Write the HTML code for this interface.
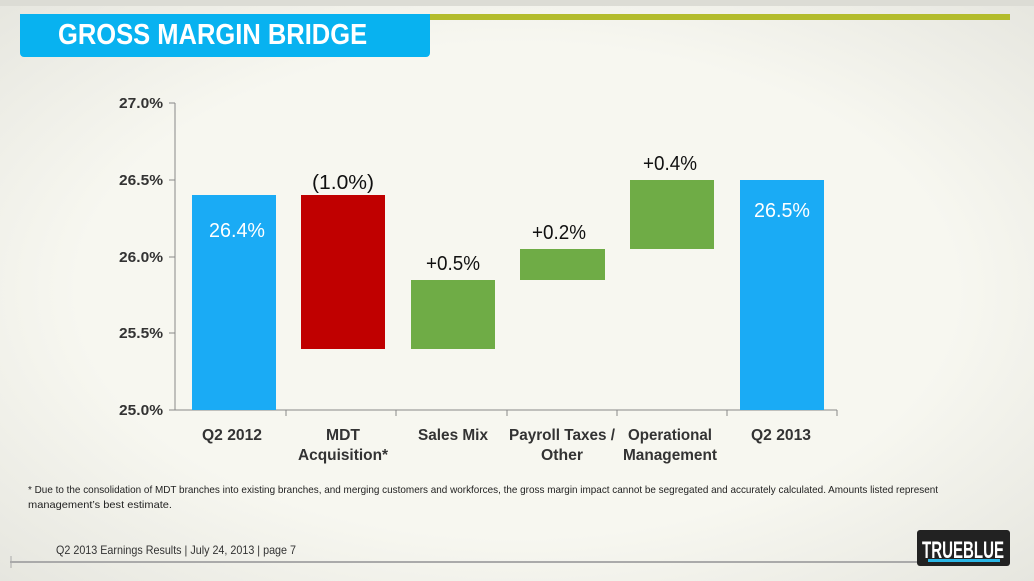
<!DOCTYPE html><html><head><style>
body{margin:0;width:1034px;height:581px;overflow:hidden;font-family:"Liberation Sans",Arial,sans-serif;background:radial-gradient(ellipse at 50% 50%,#f7f7f0 60%,#e6e6df 100%);position:relative}
.a{position:absolute}
</style></head><body>
<div class="a" style="left:0;top:0;width:1034px;height:6px;background:#dcdcd5"></div>
<div class="a" style="left:430px;top:14px;width:580px;height:6px;background:#b3bc2c"></div>
<div class="a" style="left:20px;top:14px;width:410px;height:43px;background:#08b2f0;border-radius:0 0 4px 4px"></div>
<div class="a" style="left:58px;top:19px;color:#fff;font-weight:bold;font-size:29px;transform:scaleX(0.88);transform-origin:0 0;white-space:nowrap">GROSS MARGIN BRIDGE</div>
<svg class="a" style="left:0;top:0" width="1034" height="581">
<g font-family="Liberation Sans,Arial,sans-serif">
<line x1="175" y1="103" x2="175" y2="410" stroke="#888"/>
<line x1="175" y1="410" x2="837" y2="410" stroke="#888"/>
<g stroke="#888">
<line x1="169" y1="103" x2="175" y2="103"/><line x1="169" y1="180" x2="175" y2="180"/><line x1="169" y1="257" x2="175" y2="257"/><line x1="169" y1="333" x2="175" y2="333"/><line x1="169" y1="410" x2="175" y2="410"/>
<line x1="286" y1="410" x2="286" y2="416"/><line x1="396" y1="410" x2="396" y2="416"/><line x1="507" y1="410" x2="507" y2="416"/><line x1="617" y1="410" x2="617" y2="416"/><line x1="727" y1="410" x2="727" y2="416"/><line x1="837" y1="410" x2="837" y2="416"/>
</g>
<g font-size="15" font-weight="bold" fill="#333" text-anchor="end">
<text x="163" y="108" textLength="44" lengthAdjust="spacingAndGlyphs">27.0%</text><text x="163" y="185" textLength="44" lengthAdjust="spacingAndGlyphs">26.5%</text><text x="163" y="262" textLength="44" lengthAdjust="spacingAndGlyphs">26.0%</text><text x="163" y="338" textLength="44" lengthAdjust="spacingAndGlyphs">25.5%</text><text x="163" y="415" textLength="44" lengthAdjust="spacingAndGlyphs">25.0%</text>
</g>
<rect x="192" y="195" width="84" height="215" fill="#1aabf5"/>
<rect x="301" y="195" width="84" height="154" fill="#c00000"/>
<rect x="411" y="280" width="84" height="69" fill="#6fac46"/>
<rect x="520" y="249" width="85" height="31" fill="#6fac46"/>
<rect x="630" y="180" width="84" height="69" fill="#6fac46"/>
<rect x="740" y="180" width="84" height="230" fill="#1aabf5"/>
<g font-size="20" text-anchor="middle">
<text x="237" y="237" fill="#fff" textLength="56" lengthAdjust="spacingAndGlyphs">26.4%</text>
<text x="782" y="217" fill="#fff" textLength="56" lengthAdjust="spacingAndGlyphs">26.5%</text>
<text x="343" y="189" fill="#111" textLength="62" lengthAdjust="spacingAndGlyphs">(1.0%)</text>
<text x="453" y="270" fill="#111" textLength="54" lengthAdjust="spacingAndGlyphs">+0.5%</text>
<text x="559" y="239" fill="#111" textLength="54" lengthAdjust="spacingAndGlyphs">+0.2%</text>
<text x="670" y="170" fill="#111" textLength="54" lengthAdjust="spacingAndGlyphs">+0.4%</text>
</g>
<g font-size="16" font-weight="bold" fill="#333" text-anchor="middle">
<text x="232" y="440" textLength="60" lengthAdjust="spacingAndGlyphs">Q2 2012</text>
<text x="343" y="440" textLength="34" lengthAdjust="spacingAndGlyphs">MDT</text><text x="343" y="460" textLength="90" lengthAdjust="spacingAndGlyphs">Acquisition*</text>
<text x="453" y="440" textLength="70" lengthAdjust="spacingAndGlyphs">Sales Mix</text>
<text x="562" y="440" textLength="106" lengthAdjust="spacingAndGlyphs">Payroll Taxes /</text><text x="562" y="460" textLength="42" lengthAdjust="spacingAndGlyphs">Other</text>
<text x="670" y="440" textLength="84" lengthAdjust="spacingAndGlyphs">Operational</text><text x="670" y="460" textLength="94" lengthAdjust="spacingAndGlyphs">Management</text>
<text x="781" y="440" textLength="60" lengthAdjust="spacingAndGlyphs">Q2 2013</text>
</g>
<text x="28" y="493" font-size="10.5" fill="#222" textLength="910" lengthAdjust="spacingAndGlyphs">* Due to the consolidation of MDT branches into existing branches, and merging  customers and workforces, the gross margin impact cannot be segregated and accurately calculated. Amounts listed represent</text>
<text x="28" y="508" font-size="10.5" fill="#222" textLength="144" lengthAdjust="spacingAndGlyphs">management’s best estimate.</text>
<text x="56" y="554" font-size="12" fill="#333" textLength="240" lengthAdjust="spacingAndGlyphs">Q2 2013 Earnings Results | July 24, 2013  | page 7</text>
<line x1="10" y1="562" x2="925" y2="562" stroke="#aaa" stroke-width="2"/>
<line x1="11" y1="556" x2="11" y2="568" stroke="#aaa" stroke-width="1"/>
<rect x="917" y="530" width="93" height="36" rx="3" fill="#222"/>
<text x="963" y="558" font-size="24" font-weight="bold" fill="#fff" text-anchor="middle" textLength="82" lengthAdjust="spacingAndGlyphs">TRUEBLUE</text>
<rect x="928" y="559" width="72" height="3" fill="#2ab6e6"/>
</g></svg>
</body></html>
